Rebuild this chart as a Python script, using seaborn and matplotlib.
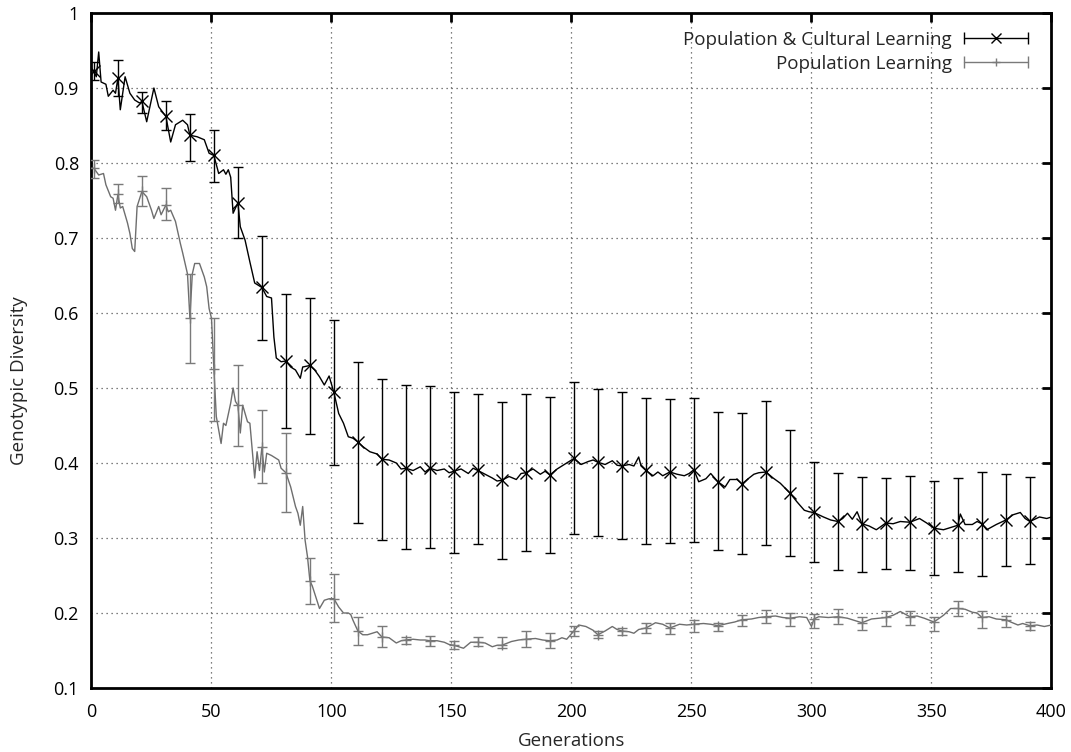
import numpy as np
import pandas as pd
import matplotlib
matplotlib.use("Agg")
import matplotlib.pyplot as plt
import seaborn as sns
from matplotlib.lines import Line2D
from matplotlib.legend_handler import HandlerLine2D, HandlerTuple

# ---------------- data ----------------
series_names = ["Population & Cultural Learning", "Population Learning"]

cult_gen = [0, 1, 2, 3, 4, 6, 7, 9, 10, 11, 12, 14, 16, 18, 20, 21, 23, 26, 28, 31,
            33, 35, 38, 40, 41, 44, 47, 49, 51, 53, 55, 56, 57, 58, 59, 61, 62, 64, 66, 68,
            71, 73, 75, 76, 77, 79, 81, 83, 85, 87, 88, 91, 93, 95, 97, 99, 101, 103, 105, 107,
            109, 111, 113, 116, 119, 121, 124, 127, 129, 131, 134, 137, 139, 141, 144, 147, 149, 151, 154, 157,
            159, 161, 164, 167, 169, 171, 174, 177, 179, 181, 184, 187, 189, 191, 194, 197, 199, 201, 204, 207,
            209, 211, 214, 217, 219, 221, 224, 226, 228, 229, 231, 234, 236, 238, 241, 244, 247, 249, 251, 253,
            256, 258, 261, 264, 266, 269, 271, 274, 276, 278, 281, 284, 287, 291, 294, 297, 299, 301, 305, 308,
            311, 313, 315, 317, 319, 321, 324, 327, 331, 334, 337, 341, 345, 348, 351, 355, 359, 361, 362, 364,
            367, 369, 371, 373, 377, 381, 384, 387, 389, 391, 395, 398, 400]
cult_val = [0.925, 0.922, 0.915, 0.948, 0.908, 0.905, 0.889, 0.897, 0.893, 0.913, 0.871, 0.915, 0.893, 0.884, 0.880, 0.882, 0.855, 0.900, 0.875, 0.862,
            0.828, 0.851, 0.857, 0.851, 0.837, 0.835, 0.831, 0.813, 0.810, 0.786, 0.791, 0.785, 0.791, 0.781, 0.733, 0.747, 0.715, 0.697, 0.668, 0.640,
            0.634, 0.622, 0.620, 0.568, 0.540, 0.535, 0.536, 0.528, 0.524, 0.513, 0.528, 0.530, 0.524, 0.515, 0.504, 0.516, 0.494, 0.466, 0.453, 0.435,
            0.433, 0.428, 0.422, 0.415, 0.412, 0.405, 0.404, 0.400, 0.392, 0.393, 0.390, 0.395, 0.388, 0.393, 0.390, 0.392, 0.387, 0.389, 0.392, 0.386,
            0.393, 0.390, 0.385, 0.380, 0.376, 0.377, 0.382, 0.378, 0.386, 0.387, 0.392, 0.385, 0.389, 0.384, 0.392, 0.398, 0.402, 0.406, 0.398, 0.402,
            0.404, 0.401, 0.398, 0.403, 0.397, 0.396, 0.398, 0.396, 0.408, 0.396, 0.390, 0.383, 0.388, 0.383, 0.388, 0.385, 0.383, 0.386, 0.391, 0.375,
            0.379, 0.386, 0.375, 0.368, 0.378, 0.378, 0.372, 0.380, 0.385, 0.387, 0.388, 0.380, 0.373, 0.360, 0.348, 0.337, 0.335, 0.334, 0.328, 0.324,
            0.322, 0.326, 0.333, 0.325, 0.335, 0.319, 0.316, 0.311, 0.320, 0.319, 0.322, 0.321, 0.326, 0.320, 0.313, 0.311, 0.315, 0.317, 0.332, 0.318,
            0.318, 0.322, 0.319, 0.311, 0.318, 0.324, 0.331, 0.334, 0.326, 0.322, 0.328, 0.326, 0.328]

pop_gen = [0, 1, 3, 5, 6, 8, 9, 10, 11, 12, 13, 15, 16, 17, 18, 19, 21, 23, 25, 26,
           28, 29, 31, 32, 33, 35, 37, 38, 40, 41, 42, 43, 45, 47, 48, 49, 50, 51, 52, 53,
           54, 55, 56, 58, 59, 60, 61, 62, 63, 65, 66, 68, 69, 70, 71, 72, 73, 75, 76, 78,
           79, 81, 83, 85, 86, 87, 88, 89, 90, 91, 92, 93, 95, 97, 99, 101, 103, 105, 107, 108,
           109, 111, 113, 115, 117, 119, 121, 124, 127, 129, 131, 134, 137, 139, 141, 144, 147, 149, 151, 155,
           158, 161, 164, 167, 169, 171, 175, 178, 181, 185, 188, 191, 194, 196, 198, 201, 203, 206, 209, 211,
           214, 217, 219, 221, 224, 226, 228, 231, 235, 238, 241, 245, 248, 251, 255, 258, 261, 265, 268, 271,
           275, 278, 281, 285, 288, 291, 295, 298, 300, 301, 303, 307, 311, 315, 318, 321, 325, 328, 331, 334,
           337, 341, 344, 347, 351, 355, 358, 361, 364, 367, 369, 371, 374, 377, 381, 383, 386, 388, 391, 394,
           397, 400]
pop_val = [0.793, 0.793, 0.784, 0.786, 0.771, 0.755, 0.753, 0.737, 0.758, 0.740, 0.742, 0.720, 0.706, 0.686, 0.682, 0.742, 0.762, 0.755, 0.737, 0.726,
           0.742, 0.731, 0.744, 0.735, 0.737, 0.722, 0.693, 0.680, 0.652, 0.593, 0.652, 0.666, 0.666, 0.648, 0.635, 0.606, 0.593, 0.525, 0.462, 0.444,
           0.426, 0.453, 0.450, 0.480, 0.500, 0.482, 0.477, 0.440, 0.477, 0.455, 0.453, 0.380, 0.415, 0.390, 0.421, 0.388, 0.413, 0.410, 0.408, 0.404,
           0.393, 0.387, 0.368, 0.342, 0.333, 0.317, 0.342, 0.297, 0.275, 0.243, 0.236, 0.226, 0.206, 0.217, 0.219, 0.219, 0.208, 0.200, 0.200, 0.198,
           0.190, 0.176, 0.171, 0.171, 0.173, 0.175, 0.168, 0.167, 0.160, 0.163, 0.164, 0.165, 0.164, 0.164, 0.163, 0.163, 0.161, 0.158, 0.157, 0.153,
           0.161, 0.161, 0.160, 0.155, 0.157, 0.157, 0.162, 0.164, 0.165, 0.166, 0.164, 0.163, 0.164, 0.167, 0.165, 0.176, 0.184, 0.182, 0.177, 0.171,
           0.176, 0.182, 0.178, 0.176, 0.175, 0.173, 0.178, 0.180, 0.187, 0.185, 0.180, 0.185, 0.184, 0.185, 0.186, 0.185, 0.183, 0.186, 0.188, 0.191,
           0.192, 0.194, 0.195, 0.196, 0.194, 0.193, 0.195, 0.194, 0.182, 0.192, 0.195, 0.194, 0.195, 0.193, 0.190, 0.187, 0.192, 0.193, 0.194, 0.197,
           0.202, 0.195, 0.196, 0.193, 0.188, 0.197, 0.206, 0.206, 0.205, 0.201, 0.200, 0.194, 0.195, 0.192, 0.191, 0.188, 0.184, 0.186, 0.183, 0.184,
           0.182, 0.184]

bar_gen = [1, 11, 21, 31, 41, 51, 61, 71, 81, 91, 101, 111, 121, 131, 141, 151, 161, 171, 181, 191,
           201, 211, 221, 231, 241, 251, 261, 271, 281, 291, 301, 311, 321, 331, 341, 351, 361, 371, 381, 391]

cult_mean = [0.922, 0.913, 0.882, 0.862, 0.837, 0.810, 0.747, 0.634, 0.536, 0.530, 0.494, 0.428, 0.405, 0.393, 0.393, 0.389, 0.390, 0.377, 0.387, 0.384,
             0.406, 0.401, 0.396, 0.390, 0.388, 0.391, 0.375, 0.372, 0.388, 0.360, 0.334, 0.322, 0.319, 0.320, 0.321, 0.313, 0.317, 0.319, 0.324, 0.322]
cult_low = [0.911, 0.889, 0.867, 0.844, 0.802, 0.774, 0.700, 0.564, 0.446, 0.439, 0.397, 0.320, 0.297, 0.285, 0.287, 0.280, 0.292, 0.272, 0.283, 0.280,
            0.305, 0.303, 0.298, 0.292, 0.293, 0.295, 0.284, 0.279, 0.291, 0.276, 0.268, 0.257, 0.255, 0.258, 0.257, 0.250, 0.254, 0.249, 0.262, 0.265]
cult_high = [0.935, 0.937, 0.894, 0.882, 0.865, 0.844, 0.795, 0.703, 0.625, 0.620, 0.591, 0.535, 0.512, 0.504, 0.503, 0.494, 0.492, 0.481, 0.492, 0.488,
             0.508, 0.498, 0.494, 0.487, 0.485, 0.486, 0.468, 0.466, 0.483, 0.444, 0.401, 0.386, 0.381, 0.380, 0.383, 0.376, 0.380, 0.388, 0.385, 0.381]

pop_mean = [0.793, 0.758, 0.762, 0.744, 0.593, 0.525, 0.477, 0.421, 0.387, 0.243, 0.219, 0.176, 0.168, 0.164, 0.163, 0.157, 0.161, 0.157, 0.165, 0.163,
            0.176, 0.171, 0.176, 0.180, 0.180, 0.185, 0.183, 0.191, 0.195, 0.193, 0.192, 0.195, 0.187, 0.194, 0.195, 0.188, 0.206, 0.194, 0.191, 0.183]
pop_low = [0.780, 0.747, 0.743, 0.724, 0.533, 0.456, 0.423, 0.373, 0.334, 0.212, 0.188, 0.157, 0.155, 0.159, 0.156, 0.152, 0.156, 0.153, 0.155, 0.153,
           0.169, 0.166, 0.171, 0.173, 0.172, 0.175, 0.176, 0.183, 0.187, 0.182, 0.180, 0.185, 0.177, 0.183, 0.184, 0.176, 0.196, 0.180, 0.181, 0.177]
pop_high = [0.804, 0.772, 0.783, 0.766, 0.652, 0.593, 0.530, 0.470, 0.440, 0.273, 0.252, 0.195, 0.182, 0.168, 0.169, 0.163, 0.168, 0.168, 0.176, 0.173,
            0.183, 0.176, 0.180, 0.187, 0.187, 0.191, 0.187, 0.197, 0.204, 0.200, 0.199, 0.205, 0.195, 0.203, 0.203, 0.195, 0.216, 0.203, 0.196, 0.188]

x_ticks = [0, 50, 100, 150, 200, 250, 300, 350, 400]
y_ticks = [0.1, 0.2, 0.3, 0.4, 0.5, 0.6, 0.7, 0.8, 0.9, 1.0]
y_ticklabels = ["0.1", "0.2", "0.3", "0.4", "0.5", "0.6", "0.7", "0.8", "0.9", "1"]
x_label = "Generations"
y_label = "Genotypic Diversity"

# ---------------- style ----------------
sns.set_style("white")
plt.rcParams["font.family"] = ["Open Sans", "DejaVu Sans"]
plt.rcParams["axes.unicode_minus"] = False

col_cult = "#000000"
col_pop = "#6e6e6e"
col_pop_bar = "#7a7a7a"

fig = plt.figure(figsize=(10.71, 7.52), dpi=100)
ax = fig.add_axes([0.08543, 0.08511, 0.89636, 0.89761])

# lines
df_c = pd.DataFrame({"gen": cult_gen, "val": cult_val})
df_p = pd.DataFrame({"gen": pop_gen, "val": pop_val})
sns.lineplot(data=df_p, x="gen", y="val", ax=ax, color=col_pop, lw=1.0, estimator=None, sort=True, zorder=3)
sns.lineplot(data=df_c, x="gen", y="val", ax=ax, color=col_cult, lw=1.0, estimator=None, sort=True, zorder=4)

# error bars
cm = np.array(cult_mean); pm = np.array(pop_mean)
ax.errorbar(bar_gen, pm, yerr=[pm - np.array(pop_low), np.array(pop_high) - pm],
            fmt="+", color=col_pop_bar, ecolor=col_pop_bar, elinewidth=1.0, capsize=3.4, capthick=1.0,
            markersize=7, markeredgewidth=1.0, zorder=3)
ax.errorbar(bar_gen, cm, yerr=[cm - np.array(cult_low), np.array(cult_high) - cm],
            fmt="x", color=col_cult, ecolor=col_cult, elinewidth=1.0, capsize=3.4, capthick=1.0,
            markersize=8, markeredgewidth=1.0, zorder=4)

# axes
ax.set_xlim(0, 400)
ax.set_ylim(0.1, 1.0)
ax.set_xticks(x_ticks)
ax.set_yticks(y_ticks)
ax.set_yticklabels(y_ticklabels)
ax.set_xlabel(x_label, fontsize=13.5)
ax.set_ylabel(y_label, fontsize=13.5)
ax.xaxis.set_label_coords(0.5, -0.065)
ax.yaxis.set_label_coords(-0.066, 0.455)
ax.tick_params(direction="in", length=6.5, width=2, top=True, right=True,
               labelsize=13, colors="black")
ax.tick_params(axis="x", pad=11)
ax.tick_params(axis="y", pad=9)
for s in ax.spines.values():
    s.set_visible(True)
    s.set_linewidth(2.0)
    s.set_color("black")
ax.set_axisbelow(True)
ax.grid(True, linestyle=(0, (1, 3)), color="#555555", linewidth=0.9)

# legend (gnuplot-like samples: line with end caps and a centre marker)
cap_c = Line2D([], [], color=col_cult, lw=1.0, marker="|", markersize=9, markeredgewidth=1.0)
mk_c = Line2D([], [], color=col_cult, ls="none", marker="x", markersize=7, markeredgewidth=1.0)
cap_p = Line2D([], [], color=col_pop_bar, lw=1.0, marker="|", markersize=9, markeredgewidth=1.0)
mk_p = Line2D([], [], color=col_pop_bar, ls="none", marker="+", markersize=6, markeredgewidth=1.0)
hmap = {
    cap_c: HandlerLine2D(numpoints=2, marker_pad=0.0),
    cap_p: HandlerLine2D(numpoints=2, marker_pad=0.0),
    mk_c: HandlerLine2D(numpoints=1),
    mk_p: HandlerLine2D(numpoints=1),
    tuple: HandlerTuple(ndivide=1, pad=0.0),
}
leg = ax.legend([(cap_c, mk_c), (cap_p, mk_p)], series_names, loc="upper right",
                bbox_to_anchor=(1 - 8 / 960, 1 - 2 / 675),
                handler_map=hmap, markerfirst=False, frameon=False, fontsize=13.5,
                handlelength=3.4, handletextpad=0.64, labelspacing=0.3,
                borderaxespad=0.55, borderpad=0.3)

fig.savefig("out.png", dpi=100)
